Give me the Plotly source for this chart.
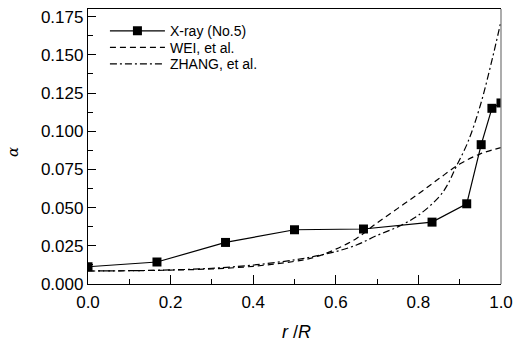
import plotly.graph_objects as go

# X-ray measurement (No.5)
xray_x = [0.0, 0.167, 0.333, 0.5, 0.667, 0.833, 0.917, 0.952, 0.978, 1.0]
xray_y = [0.0113, 0.0144, 0.0272, 0.0355, 0.0360, 0.0405, 0.0525, 0.0912, 0.1150, 0.1185]

# WEI, et al. (dashed)
wei_x = [0.0, 0.1, 0.2, 0.3, 0.4, 0.5, 0.55, 0.6, 0.65, 0.7, 0.75, 0.8, 0.85, 0.9, 0.95, 1.0]
wei_y = [0.0085, 0.0087, 0.0091, 0.0099, 0.0116, 0.0148, 0.0176, 0.0228, 0.0298, 0.0400, 0.0495, 0.0590, 0.0690, 0.0785, 0.0852, 0.0893]

# ZHANG, et al. (dash-dot)
zhang_x = [0.0, 0.1, 0.2, 0.3, 0.4, 0.5, 0.55, 0.6, 0.65, 0.7, 0.75, 0.8, 0.85, 0.87, 0.89, 0.92, 0.95, 0.975, 1.0]
zhang_y = [0.0085, 0.0087, 0.0092, 0.0103, 0.0124, 0.0158, 0.0182, 0.0212, 0.0255, 0.0318, 0.0374, 0.0450, 0.0570, 0.0647, 0.0760, 0.0930, 0.1170, 0.1430, 0.1720]

x_title = "<i>r</i> /<i>R</i>"
y_title = "<i>α</i>"

FONT = "Liberation Sans, Arial, sans-serif"

fig = go.Figure()
fig.add_trace(go.Scatter(
    x=xray_x, y=xray_y, mode="lines+markers", name="X-ray (No.5)",
    line=dict(color="black", width=1.2),
    marker=dict(symbol="square", size=9, color="black"),
    legend="legend",
))
fig.add_trace(go.Scatter(
    x=wei_x, y=wei_y, mode="lines", name="WEI, et al.",
    line=dict(color="black", width=1.2, dash="6px,4px", shape="spline"),
    legend="legend2",
))
fig.add_trace(go.Scatter(
    x=zhang_x, y=zhang_y, mode="lines", name="ZHANG, et al.",
    line=dict(color="black", width=1.2, dash="7px,3px,2px,3px", shape="spline"),
    legend="legend3",
))

leg_common = dict(
    x=0.041, xanchor="left", yanchor="middle",
    bgcolor="rgba(0,0,0,0)", font=dict(size=14, family=FONT),
    itemwidth=55, borderwidth=0,
)

fig.update_layout(
    width=514, height=341,
    margin=dict(l=88, r=13, t=9, b=57, autoexpand=False),
    paper_bgcolor="white", plot_bgcolor="white",
    font=dict(family=FONT, color="black", size=17),
    showlegend=True,
    legend=dict(y=0.9193, **leg_common),
    legend2=dict(y=0.8593, **leg_common),
    legend3=dict(y=0.7993, **leg_common),
    xaxis=dict(
        range=[0, 1], dtick=0.2, tick0=0, tickformat=".1f",
        ticks="inside", ticklen=9, tickwidth=1.2, tickcolor="black",
        minor=dict(ticks="inside", ticklen=5, dtick=0.1, tickwidth=1.2, tickcolor="black"),
        showline=True, linecolor="black", linewidth=1.3, mirror=True,
        showgrid=False, zeroline=False, automargin=False,
        ticklabelstandoff=2,
        tickfont=dict(size=17, family=FONT),
    ),
    yaxis=dict(
        range=[0, 0.18], dtick=0.025, tick0=0, tickformat=".3f",
        ticks="inside", ticklen=8, tickwidth=1.2, tickcolor="black",
        minor=dict(ticks="inside", ticklen=5, dtick=0.0125, tickwidth=1.2, tickcolor="black"),
        showline=True, linecolor="black", linewidth=1.3, mirror=False,
        showgrid=False, zeroline=False, automargin=False,
        tickfont=dict(size=17, family=FONT),
    ),
    shapes=[
        dict(type="line", xref="paper", yref="paper", x0=1, x1=1, y0=0, y1=1,
             line=dict(color="#808080", width=1.3)),
    ],
    annotations=[
        dict(text=x_title, xref="paper", yref="paper", x=0.504, y=-0.175,
             xanchor="center", yanchor="middle", showarrow=False,
             font=dict(size=18, family=FONT)),
        dict(text=y_title, xref="paper", yref="paper", x=-0.1816, y=0.48,
             xanchor="center", yanchor="middle", showarrow=False, textangle=-90,
             font=dict(size=15, family="DejaVu Serif, serif")),
    ],
)

fig.write_html("out.html")
